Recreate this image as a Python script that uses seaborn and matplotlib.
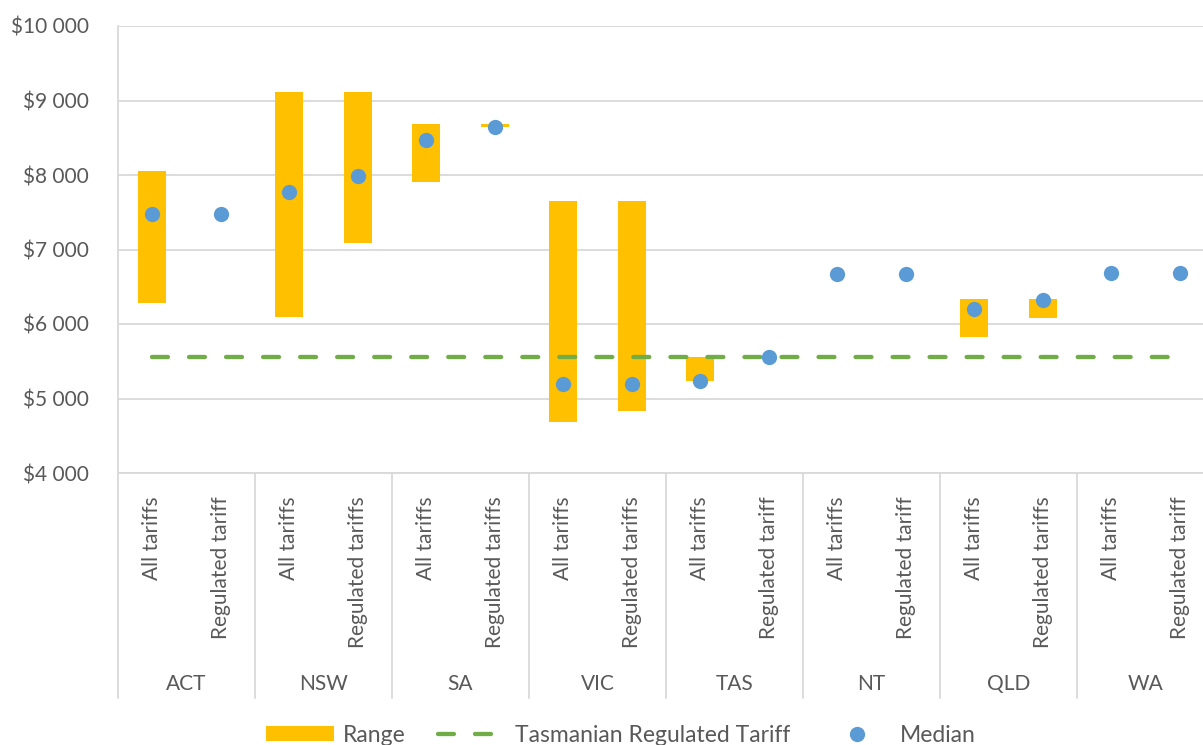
import numpy as np
import matplotlib
matplotlib.use("Agg")
import matplotlib.pyplot as plt
from matplotlib.ticker import FuncFormatter
from matplotlib.patches import Patch
from matplotlib.lines import Line2D
import seaborn as sns

# ---- data -------------------------------------------------------------
states = ["ACT", "NSW", "SA", "VIC", "TAS", "NT", "QLD", "WA"]
tariff_labels = [
    "All tariffs", "Regulated tariff",
    "All tariffs", "Regulated tariffs",
    "All tariffs", "Regulated tariffs",
    "All tariffs", "Regulated tariffs",
    "All tariffs", "Regulated tariff",
    "All tariffs", "Regulated tariff",
    "All tariffs", "Regulated tariffs",
    "All tariffs", "Regulated tariff",
]
range_low = [6280, 7480, 6100, 7090, 7910, 8640, 4690, 4830,
             5240, 5560, 6670, 6670, 5820, 6080, 6680, 6680]
range_high = [8050, 7480, 9120, 9120, 8690, 8685, 7650, 7650,
              5560, 5560, 6670, 6670, 6330, 6330, 6680, 6680]
median = [7480, 7480, 7770, 7980, 8470, 8640, 5190, 5190,
          5240, 5560, 6670, 6670, 6200, 6320, 6690, 6690]
tas_regulated = 5560
y_ticks = [4000, 5000, 6000, 7000, 8000, 9000, 10000]

# ---- style ------------------------------------------------------------
ORANGE = "#FFC000"
GREEN = "#70AD47"
BLUE = "#5B9BD5"
GRID = "#D9D9D9"
TEXT = "#595959"

sns.set_style("white")
plt.rcParams["font.family"] = ["Lato", "DejaVu Sans"]
plt.rcParams["font.size"] = 15
plt.rcParams["text.color"] = TEXT
plt.rcParams["xtick.color"] = TEXT
plt.rcParams["ytick.color"] = TEXT

slot = np.arange(len(tariff_labels))
span = np.array(range_high) - np.array(range_low)
tas_line = [tas_regulated] * len(slot)

fig = plt.figure(figsize=(12.03, 7.45), dpi=100)
ax = fig.add_axes([118 / 1203, 272 / 745, 1096 / 1203, 447 / 745])

# floating range bars
sns.barplot(x=slot, y=span, bottom=range_low, width=0.41, color=ORANGE,
            errorbar=None, linewidth=0, saturation=1, zorder=2, ax=ax)

# Tasmanian regulated tariff reference line
sns.lineplot(x=slot, y=tas_line, color=GREEN, linewidth=3.1,
             errorbar=None, zorder=3, ax=ax)
ref_line = ax.lines[-1]
ref_line.set_dashes((3.7, 4.9))
ref_line.set_dash_capstyle("round")

# medians
sns.stripplot(x=slot, y=median, jitter=False, size=11, color=BLUE,
              linewidth=0, zorder=4, ax=ax)

# ---- axes -------------------------------------------------------------
ax.set_xlim(-0.5, len(slot) - 0.5)
ax.set_ylim(y_ticks[0], y_ticks[-1])
ax.set_yticks(y_ticks)
ax.yaxis.set_major_formatter(
    FuncFormatter(lambda v, _: "$" + f"{v:,.0f}".replace(",", " ")))
ax.yaxis.grid(True, color=GRID, linewidth=1.3)
ax.xaxis.grid(False)
ax.set_axisbelow(True)
ax.tick_params(axis="y", length=7, width=1.3, color=GRID, pad=14, labelsize=15)

ax.set_xticks(slot)
ax.set_xticklabels(tariff_labels, rotation=90, va="top", ha="center")
ax.tick_params(axis="x", length=0, pad=17, labelsize=15)
ax.set_xlabel("")
ax.set_ylabel("")

for side in ("top", "right"):
    ax.spines[side].set_visible(False)
for side in ("left", "bottom"):
    ax.spines[side].set_color(GRID)
    ax.spines[side].set_linewidth(1.3)

# state group separators and labels below the axis
xt = ax.get_xaxis_transform()
group_edges = np.arange(len(states) + 1) * 2 - 0.5
for edge in group_edges:
    ax.plot([edge, edge], [0, -0.503], transform=xt, clip_on=False,
            color=GRID, linewidth=1.3)
for i, st in enumerate(states):
    ax.text(2 * i + 0.5, -0.472, st, transform=xt, ha="center", va="center",
            fontsize=15, color=TEXT)

# ---- legend -----------------------------------------------------------
handles = [
    Patch(facecolor=ORANGE, edgecolor="none", label="Range"),
    Line2D([], [], color=GREEN, linewidth=3.1, dashes=(3.7, 4.9),
           dash_capstyle="round", label="Tasmanian Regulated Tariff"),
    Line2D([], [], marker="o", linestyle="", color=BLUE, markersize=11,
           markeredgewidth=0, label="Median"),
]
fig.legend(handles=handles, ncol=3, loc="center",
           bbox_to_anchor=(0.516, 0.0134), frameon=False, fontsize=16.5,
           handlelength=2.97, handleheight=0.6, handletextpad=0.4,
           columnspacing=1.4)

fig.savefig("out.png", dpi=100)
